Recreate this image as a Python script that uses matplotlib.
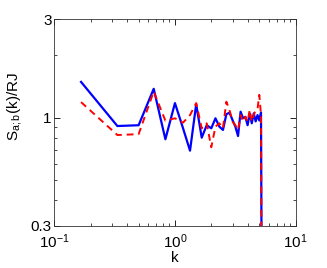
import numpy as np
import matplotlib
matplotlib.use("Agg")
import matplotlib.pyplot as plt
from matplotlib.ticker import LogLocator, FixedLocator, FixedFormatter, NullFormatter

plt.rcParams['font.family'] = ['Liberation Sans', 'DejaVu Sans']
plt.rcParams['mathtext.fontset'] = 'custom'
plt.rcParams['mathtext.rm'] = 'Liberation Sans'
plt.rcParams['mathtext.it'] = 'Liberation Sans:italic'
plt.rcParams['mathtext.default'] = 'regular'

# data: k = n/6
n_index = list(range(1, 33))
k_values = [n / 6 for n in n_index]
s_blue = [1.49, 0.912, 0.92, 1.38, 0.787, 1.177, 0.89, 0.693, 1.162, 0.801,
          0.92, 0.889, 0.994, 0.906, 0.873, 1.04, 1.058, 0.975, 0.906, 0.816,
          1.07, 0.994, 1.01, 0.92, 1.05, 0.94, 1.05, 0.96, 1.03, 0.97, 1.06, 0.01]
s_red = [1.19, 0.825, 0.833, 1.338, 0.968, 0.994, 0.947, 1.03, 1.177, 0.889,
         0.94, 0.72, 0.906, 0.94, 0.889, 1.195, 1.089, 0.958, 0.92, 0.873,
         1.03, 0.958, 1.01, 0.958, 1.09, 0.958, 1.03, 1.09, 1.10, 1.29, 1.03, 0.01]

fig = plt.figure(figsize=(3.27, 2.68), dpi=100)
ax = fig.add_axes([0.166, 0.157, 0.738, 0.772])
ax.plot(k_values, s_blue, color='#0000ff', lw=1.6)
ax.plot(k_values, s_red, color='#ff0000', lw=1.4, ls=(0, (3.5, 2.5)))
ax.set_xscale('log')
ax.set_yscale('log')
ax.set_xlim(0.1, 10)
ax.set_ylim(0.3, 3)

ax.yaxis.set_major_locator(FixedLocator([0.3, 1, 3]))
ax.yaxis.set_major_formatter(FixedFormatter(['0.3', '1', '3']))
ax.yaxis.set_minor_locator(FixedLocator([0.4, 0.5, 0.6, 0.7, 0.8, 0.9, 2]))
ax.yaxis.set_minor_formatter(NullFormatter())
ax.xaxis.set_minor_locator(LogLocator(base=10, subs=np.arange(2, 10)))
ax.xaxis.set_minor_formatter(NullFormatter())

ax.tick_params(which='both', direction='in', top=True, right=True, labelsize=11, pad=2)
ax.tick_params(axis='x', which='major', pad=5)
ax.tick_params(which='major', length=4, width=0.6)
ax.tick_params(which='minor', length=2, width=0.5)
for s in ax.spines.values():
    s.set_linewidth(0.6)
    s.set_color('#333333')
for lbl in ax.get_yticklabels():
    lbl.set_verticalalignment('center_baseline')

ax.set_xlabel('k', fontsize=11, labelpad=0)
ax.set_ylabel('$S_{a;b}$(k)/RJ', fontsize=11)
ax.yaxis.set_label_coords(-0.125, 0.575)

fig.savefig('out.png', dpi=100)
